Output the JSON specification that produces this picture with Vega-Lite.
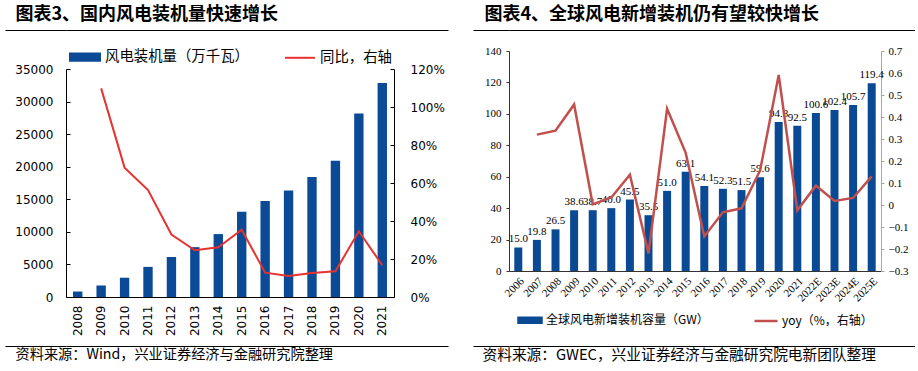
{
  "$schema": "https://vega.github.io/schema/vega-lite/v6.json",
  "padding": {"left": 4, "top": 6, "right": 0, "bottom": 0},
  "background": "#ffffff",
  "config": {
    "view": {"stroke": null},
    "font": "Noto Sans CJK SC",
    "legend": {"layout": {"top": {"anchor": "middle"}, "bottom": {"anchor": "middle"}}}
  },
  "spacing": 24,
  "resolve": {"scale": {"color": "independent"}, "legend": {"color": "independent"}},
  "hconcat": [
    {
      "spacing": 10,
      "resolve": {"scale": {"color": "independent"}, "legend": {"color": "independent"}},
      "vconcat": [
        {
          "width": 382,
          "height": 1,
          "data": {"values": [{"v": 0}]},
          "mark": {"type": "rule", "strokeOpacity": 0},
          "encoding": {"y": {"field": "v", "type": "quantitative", "scale": {"domain": [0, 1]},
            "axis": {"values": [0], "tickSize": 61, "tickColor": "#000000", "tickWidth": 1, "labels": false, "domain": false, "grid": true, "gridColor": "#000000", "gridOpacity": 1, "gridWidth": 1, "title": null}}},
          "title": {"text": "图表3、国内风电装机量快速增长", "anchor": "start", "frame": "bounds", "dx": 11, "fontSize": 18, "fontWeight": "bold", "font": "Noto Sans CJK SC", "color": "#000000", "offset": 5}
        },
        {
          "spacing": 9,
          "resolve": {"scale": {"color": "independent"}, "legend": {"color": "independent"}},
          "vconcat": [
            {
              "width": 328,
              "height": 228,
              "data": {"values": [
                {"year": "2008", "cap": 839, "yoy": null},
                {"year": "2009", "cap": 1760, "yoy": 1.098},
                {"year": "2010", "cap": 2958, "yoy": 0.681},
                {"year": "2011", "cap": 4623, "yoy": 0.563},
                {"year": "2012", "cap": 6142, "yoy": 0.329},
                {"year": "2013", "cap": 7652, "yoy": 0.246},
                {"year": "2014", "cap": 9657, "yoy": 0.262},
                {"year": "2015", "cap": 13075, "yoy": 0.354},
                {"year": "2016", "cap": 14747, "yoy": 0.128},
                {"year": "2017", "cap": 16367, "yoy": 0.11},
                {"year": "2018", "cap": 18427, "yoy": 0.126},
                {"year": "2019", "cap": 20915, "yoy": 0.135},
                {"year": "2020", "cap": 28153, "yoy": 0.346},
                {"year": "2021", "cap": 32848, "yoy": 0.167}
              ]},
              "layer": [
                {
                  "mark": {"type": "bar"},
                  "encoding": {
                    "x": {"field": "year", "type": "nominal", "scale": {"paddingInner": 0.6, "paddingOuter": 0.3},
                      "axis": {"title": null, "labelAngle": -90, "ticks": false, "labelPadding": 8, "labelFont": "DejaVu Sans", "labelFontSize": 12, "labelColor": "#000000", "domainColor": "#000000"}},
                    "y": {"field": "cap", "type": "quantitative", "scale": {"domain": [0, 35000]},
                      "axis": {"title": null, "values": [0, 5000, 10000, 15000, 20000, 25000, 30000, 35000], "format": "d", "grid": false, "domainColor": "#000000", "tickColor": "#000000", "tickSize": -4, "labelPadding": 17, "labelFont": "DejaVu Sans", "labelFontSize": 12, "labelColor": "#000000", "minExtent": 61, "maxExtent": 61}},
                    "color": {"datum": "风电装机量（万千瓦）",
                      "scale": {"domain": ["风电装机量（万千瓦）", "同比，右轴"], "range": ["#0b4a96", "#e8322e"]},
                      "legend": {"orient": "top", "title": null, "direction": "horizontal", "offset": 4, "symbolSize": 900, "labelFont": "Noto Sans CJK SC", "labelFontSize": 14.4, "labelColor": "#000000", "columnPadding": 32, "labelOffset": 4, "labelLimit": 300,
                        "encode": {"symbols": {"update": {
                          "shape": {"signal": "datum.value === '同比，右轴' ? 'stroke' : 'M-1,-0.24H1V0.24H-1Z'"},
                          "fill": {"signal": "datum.value === '同比，右轴' ? 'transparent' : '#0b4a96'"},
                          "stroke": {"signal": "datum.value === '同比，右轴' ? '#e8322e' : 'transparent'"},
                          "strokeWidth": {"value": 2}
                        }}}}}
                  }
                },
                {
                  "mark": {"type": "line", "strokeWidth": 2},
                  "encoding": {
                    "x": {"field": "year", "type": "nominal"},
                    "y": {"field": "yoy", "type": "quantitative", "scale": {"domain": [0, 1.2]},
                      "axis": {"orient": "right", "title": null, "values": [0, 0.2, 0.4, 0.6, 0.8, 1.0, 1.2], "format": ".0%", "grid": false, "domainColor": "#000000", "tickColor": "#000000", "tickSize": -4, "labelPadding": 20, "labelFont": "DejaVu Sans", "labelFontSize": 12, "labelColor": "#000000"}},
                    "color": {"datum": "同比，右轴"}
                  }
                }
              ],
              "resolve": {"scale": {"y": "independent"}}
            },
            {
              "width": 382,
              "height": 1,
              "data": {"values": [{"v": 0}]},
              "mark": {"type": "rule", "strokeOpacity": 0},
              "encoding": {"y": {"field": "v", "type": "quantitative", "scale": {"domain": [0, 1]},
                "axis": {"values": [0], "tickSize": 61, "tickColor": "#000000", "tickWidth": 1, "labels": false, "domain": false, "grid": true, "gridColor": "#000000", "gridOpacity": 1, "gridWidth": 1, "title": null}}},
              "title": {"text": "资料来源：Wind，兴业证券经济与金融研究院整理", "orient": "bottom", "anchor": "start", "frame": "bounds", "dx": 11, "fontSize": 14.2, "fontWeight": "normal", "font": "Noto Sans CJK SC", "color": "#000000", "offset": 1}
            }
          ]
        }
      ]
    },
    {
      "spacing": 14,
      "resolve": {"scale": {"color": "independent"}, "legend": {"color": "independent"}},
      "vconcat": [
        {
          "width": 406,
          "height": 1,
          "data": {"values": [{"v": 0}]},
          "mark": {"type": "rule", "strokeOpacity": 0},
          "encoding": {"y": {"field": "v", "type": "quantitative", "scale": {"domain": [0, 1]},
            "axis": {"values": [0], "tickSize": 36, "tickColor": "#000000", "tickWidth": 1, "labels": false, "domain": false, "grid": true, "gridColor": "#000000", "gridOpacity": 1, "gridWidth": 1, "title": null}}},
          "title": {"text": "图表4、全球风电新增装机仍有望较快增长", "anchor": "start", "frame": "bounds", "dx": 12, "fontSize": 18, "fontWeight": "bold", "font": "Noto Sans CJK SC", "color": "#000000", "offset": 5}
        },
        {
          "spacing": 17,
          "resolve": {"scale": {"color": "independent"}, "legend": {"color": "independent"}},
          "vconcat": [
            {
              "width": 372,
              "height": 220,
              "data": {"values": [
                {"year": "2006", "cap": 15.0, "yoy": null},
                {"year": "2007", "cap": 19.8, "yoy": 0.32},
                {"year": "2008", "cap": 26.5, "yoy": 0.338},
                {"year": "2009", "cap": 38.6, "yoy": 0.457},
                {"year": "2010", "cap": 38.7, "yoy": 0.003},
                {"year": "2011", "cap": 40.0, "yoy": 0.034},
                {"year": "2012", "cap": 45.5, "yoy": 0.138},
                {"year": "2013", "cap": 35.5, "yoy": -0.22},
                {"year": "2014", "cap": 51.0, "yoy": 0.437},
                {"year": "2015", "cap": 63.1, "yoy": 0.237},
                {"year": "2016", "cap": 54.1, "yoy": -0.143},
                {"year": "2017", "cap": 52.3, "yoy": -0.033},
                {"year": "2018", "cap": 51.5, "yoy": -0.015},
                {"year": "2019", "cap": 59.6, "yoy": 0.157},
                {"year": "2020", "cap": 94.8, "yoy": 0.591},
                {"year": "2021", "cap": 92.5, "yoy": -0.024},
                {"year": "2022E", "cap": 100.6, "yoy": 0.088},
                {"year": "2023E", "cap": 102.4, "yoy": 0.018},
                {"year": "2024E", "cap": 105.7, "yoy": 0.032},
                {"year": "2025E", "cap": 119.4, "yoy": 0.13}
              ]},
              "layer": [
                {
                  "mark": {"type": "bar"},
                  "encoding": {
                    "x": {"field": "year", "type": "nominal", "scale": {"paddingInner": 0.57, "paddingOuter": 0.285},
                      "axis": {"title": null, "labelAngle": -45, "ticks": false, "labelPadding": 4, "labelFont": "Liberation Serif", "labelFontSize": 11, "labelColor": "#000000", "domainColor": "#333333"}},
                    "y": {"field": "cap", "type": "quantitative", "scale": {"domain": [0, 140]},
                      "axis": {"title": null, "values": [0, 20, 40, 60, 80, 100, 120, 140], "grid": false, "domainColor": "#333333", "tickColor": "#333333", "tickSize": 3, "labelPadding": 5, "labelFont": "Liberation Serif", "labelFontSize": 11, "labelColor": "#000000", "minExtent": 36, "maxExtent": 36}},
                    "color": {"datum": "全球风电新增装机容量（GW）",
                      "scale": {"domain": ["全球风电新增装机容量（GW）", "yoy（%，右轴）"], "range": ["#0a4a94", "#c0504d"]},
                      "legend": {"orient": "bottom", "title": null, "direction": "horizontal", "offset": 3, "symbolSize": 529, "labelFont": "Noto Sans CJK SC", "labelFontSize": 12, "labelColor": "#000000", "columnPadding": 40, "labelOffset": 3, "labelLimit": 300,
                        "encode": {"symbols": {"update": {
                          "shape": {"signal": "datum.value === 'yoy（%，右轴）' ? 'stroke' : 'M-1,-0.22H1V0.22H-1Z'"},
                          "fill": {"signal": "datum.value === 'yoy（%，右轴）' ? 'transparent' : '#0a4a94'"},
                          "stroke": {"signal": "datum.value === 'yoy（%，右轴）' ? '#c0504d' : 'transparent'"},
                          "strokeWidth": {"value": 2.5}
                        }}}}}
                  }
                },
                {
                  "mark": {"type": "text", "font": "Liberation Serif", "fontSize": 11, "baseline": "alphabetic", "dy": -5, "color": "#000000"},
                  "encoding": {
                    "x": {"field": "year", "type": "nominal"},
                    "y": {"field": "cap", "type": "quantitative", "scale": {"domain": [0, 140]}, "axis": null},
                    "text": {"field": "cap", "type": "quantitative", "format": ".1f"}
                  }
                },
                {
                  "mark": {"type": "line", "strokeWidth": 2.5},
                  "encoding": {
                    "x": {"field": "year", "type": "nominal"},
                    "y": {"field": "yoy", "type": "quantitative", "scale": {"domain": [-0.3, 0.7]},
                      "axis": {"orient": "right", "title": null, "values": [-0.3, -0.2, -0.1, 0, 0.1, 0.2, 0.3, 0.4, 0.5, 0.6, 0.7], "labelExpr": "abs(datum.value) < 0.001 ? '0' : format(datum.value, '.1f')", "grid": false, "domainColor": "#a6a6a6", "tickColor": "#a6a6a6", "tickSize": 3, "labelPadding": 4, "labelFont": "Liberation Serif", "labelFontSize": 11, "labelColor": "#000000"}},
                    "color": {"datum": "yoy（%，右轴）"}
                  }
                }
              ],
              "resolve": {"scale": {"y": "independent"}}
            },
            {
              "width": 406,
              "height": 1,
              "data": {"values": [{"v": 0}]},
              "mark": {"type": "rule", "strokeOpacity": 0},
              "encoding": {"y": {"field": "v", "type": "quantitative", "scale": {"domain": [0, 1]},
                "axis": {"values": [0], "tickSize": 36, "tickColor": "#000000", "tickWidth": 1, "labels": false, "domain": false, "grid": true, "gridColor": "#000000", "gridOpacity": 1, "gridWidth": 1, "title": null}}},
              "title": {"text": "资料来源：GWEC，兴业证券经济与金融研究院电新团队整理", "orient": "bottom", "anchor": "start", "frame": "bounds", "dx": 10, "fontSize": 14.7, "fontWeight": "normal", "font": "Noto Sans CJK SC", "color": "#000000", "offset": 1}
            }
          ]
        }
      ]
    }
  ]
}
